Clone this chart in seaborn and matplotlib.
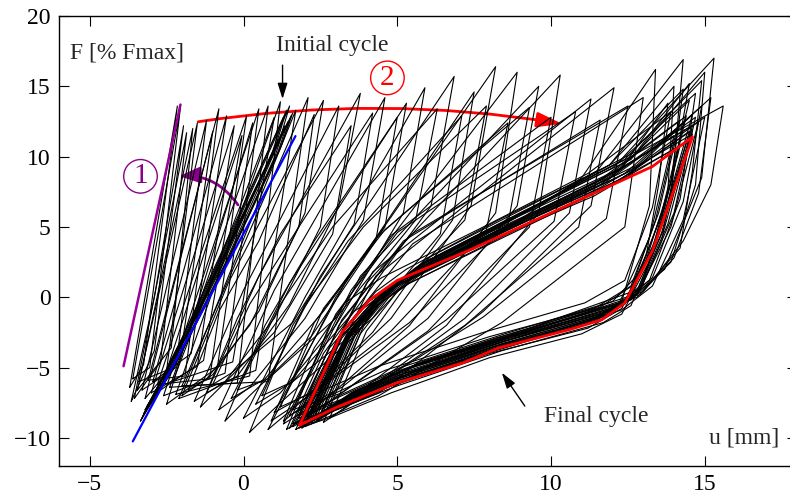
import numpy as np
import pandas as pd
import matplotlib
matplotlib.use("Agg")
import matplotlib.pyplot as plt
from matplotlib.patches import FancyArrowPatch
import seaborn as sns

# --- data: hysteresis cycles, u [mm] vs F [% Fmax] ---
# initial cycles, stacked narrow loops along the blue stiffness line
initial_cycles = [
    [(-3.30, -8.6), (-1.90, -2.5), (-0.30, 5.0), (1.40, 13.3), (1.05, 10.8), (-0.70, 2.2), (-2.50, -5.6), (-3.30, -8.6)],
    [(-3.25, -8.3), (-1.80, -2.2), (-0.20, 5.3), (1.50, 13.6), (1.15, 11.0), (-0.60, 2.4), (-2.40, -5.4), (-3.25, -8.3)],
    [(-3.35, -8.8), (-2.00, -2.9), (-0.40, 4.7), (1.30, 12.8), (0.95, 10.4), (-0.80, 1.9), (-2.60, -5.9), (-3.35, -8.8)],
    [(-3.20, -8.0), (-1.70, -2.0), (-0.10, 5.4), (1.55, 12.9), (1.20, 10.6), (-0.50, 2.6), (-2.30, -5.2), (-3.20, -8.0)],
    [(-3.28, -8.5), (-1.85, -2.6), (-0.25, 4.9), (1.45, 12.5), (1.10, 10.2), (-0.65, 2.0), (-2.45, -5.7), (-3.28, -8.5)],
    [(-3.15, -7.8), (-1.75, -2.3), (-0.15, 5.1), (1.60, 13.1), (1.25, 10.9), (-0.55, 2.5), (-2.35, -5.3), (-3.15, -7.8)],
    [(-3.22, -8.2), (-1.80, -2.4), (-0.20, 5.0), (1.35, 12.2), (1.02, 10.0), (-0.62, 2.1), (-2.42, -5.5), (-3.22, -8.2)],
]

# early cycles fanning out to the left (stiffness change, arrow 1)
fan_cycles = [
    [(-3.70, -6.4), (-2.15, 13.6), (-3.25, -4.8), (-3.70, -6.4)],
    [(-3.60, -5.8), (-2.05, 13.5), (-3.05, -5.0), (-3.60, -5.8)],
    [(-3.55, -7.2), (-1.85, 11.7), (-2.70, -4.6), (-3.55, -7.2)],
    [(-3.40, -6.0), (-1.50, 12.4), (-2.50, -5.2), (-3.40, -6.0)],
    [(-3.30, -6.6), (-1.20, 12.6), (-2.20, -5.0), (-3.30, -6.6)],
    [(-3.10, -5.9), (-0.80, 13.4), (-1.90, -5.6), (-3.10, -5.9)],
    [(-3.00, -6.8), (-0.30, 12.2), (-1.50, -4.9), (-3.00, -6.8)],
    [(-2.80, -6.2), (0.10, 12.9), (-1.10, -5.8), (-2.80, -6.2)],
    [(-2.60, -7.0), (0.50, 13.4), (-0.60, -5.4), (-2.60, -7.0)],
    [(-2.40, -6.4), (0.80, 13.6), (-0.20, -6.1), (-2.40, -6.4)],
    [(-2.20, -6.9), (1.20, 13.9), (0.20, -5.6), (-2.20, -6.9)],
    [(-2.00, -6.3), (2.10, 14.2), (0.80, -6.0), (-2.00, -6.3)],
    [(-3.65, -7.4), (-2.90, 0.0), (-1.95, 12.2), (-2.90, -3.8), (-3.65, -7.4)],
    [(-3.45, -6.6), (-1.65, 12.0), (-2.35, -3.6), (-3.45, -6.6)],
    [(-3.20, -7.2), (-1.00, 11.8), (-2.05, -4.2), (-3.20, -7.2)],
    [(-2.95, -6.0), (-0.55, 12.9), (-1.70, -4.0), (-2.95, -6.0)],
    [(-2.70, -6.6), (-0.05, 11.5), (-1.30, -4.5), (-2.70, -6.6)],
    [(-2.50, -7.6), (0.30, 12.4), (-0.85, -5.0), (-2.50, -7.6)],
    [(-2.30, -6.0), (1.00, 12.8), (-0.35, -4.6), (-2.30, -6.0)],
    [(-2.10, -7.2), (1.70, 13.3), (0.40, -5.2), (-2.10, -7.2)],
]

# transition cycles, peak moving to the right (arrow 2)
mid_cycles = [
    [(-2.0, -7.0), (-0.5, 1.0), (2.60, 14.0), (2.0, 6.0), (0.5, -1.0), (-1.0, -5.5), (-2.0, -7.0)],
    [(-1.6, -7.4), (0.0, 0.5), (3.10, 13.6), (2.5, 5.0), (1.0, -1.5), (-0.6, -6.0), (-1.6, -7.4)],
    [(-1.2, -6.8), (0.5, 1.5), (3.80, 14.5), (3.1, 6.5), (1.5, -0.5), (-0.2, -5.6), (-1.2, -6.8)],
    [(-0.8, -8.0), (1.0, 0.5), (4.60, 14.2), (3.9, 5.5), (2.0, -1.5), (0.2, -6.4), (-0.8, -8.0)],
    [(-0.4, -7.2), (1.5, 1.0), (5.30, 13.8), (4.6, 5.0), (2.6, -1.0), (0.7, -5.8), (-0.4, -7.2)],
    [(0.0, -8.6), (2.0, 0.0), (5.90, 14.9), (5.2, 6.0), (3.0, -2.0), (1.2, -6.8), (0.0, -8.6)],
    [(0.4, -7.6), (2.5, 1.5), (6.85, 15.7), (6.1, 6.5), (3.6, -1.0), (1.6, -6.0), (0.4, -7.6)],
    [(0.8, -9.4), (3.0, 0.0), (7.50, 14.6), (6.8, 5.5), (4.2, -2.5), (2.0, -7.2), (0.8, -9.4)],
    [(1.0, -8.2), (3.3, 1.0), (8.20, 16.4), (7.4, 6.5), (4.8, -1.5), (2.4, -6.5), (1.0, -8.2)],
    [(1.3, -9.0), (3.5, 0.5), (8.90, 16.0), (8.2, 6.0), (5.4, -2.0), (2.8, -7.0), (1.3, -9.0)],
    [(1.5, -8.4), (3.8, 1.5), (9.60, 15.0), (8.9, 6.5), (6.0, -1.5), (3.2, -6.4), (1.5, -8.4)],
    [(1.6, -9.2), (4.0, 1.0), (10.3, 15.8), (9.6, 6.0), (6.6, -2.0), (3.6, -7.0), (1.6, -9.2)],
    [(1.8, -8.6), (4.2, 1.8), (11.3, 14.1), (10.6, 6.0), (7.2, -1.5), (4.0, -6.6), (1.8, -8.6)],
    [(1.9, -9.0), (4.3, 1.5), (12.05, 14.9), (11.3, 6.5), (7.8, -1.0), (4.4, -6.8), (1.9, -9.0)],
    [(-1.8, -6.6), (-0.8, -1.0), (0.5, 4.0), (2.3, 13.0), (1.8, 5.0), (0.2, -2.0), (-1.2, -5.8), (-1.8, -6.6)],
    [(-1.4, -7.8), (-0.2, -1.5), (1.2, 4.5), (3.5, 12.2), (2.9, 4.5), (1.0, -2.5), (-0.8, -6.5), (-1.4, -7.8)],
    [(-1.0, -6.2), (0.2, -0.5), (1.8, 5.0), (4.2, 13.1), (3.6, 5.2), (1.6, -1.8), (-0.4, -5.4), (-1.0, -6.2)],
    [(-0.6, -8.8), (0.7, -2.0), (2.3, 4.0), (5.0, 12.8), (4.3, 4.0), (2.2, -2.8), (0.2, -7.0), (-0.6, -8.8)],
    [(-0.2, -6.6), (1.2, -0.5), (2.9, 5.0), (6.3, 13.4), (5.6, 5.5), (3.0, -1.5), (0.8, -5.8), (-0.2, -6.6)],
    [(0.2, -9.6), (1.6, -2.0), (3.4, 4.0), (7.1, 12.9), (6.4, 4.5), (3.6, -2.8), (1.2, -7.5), (0.2, -9.6)],
    [(0.6, -7.0), (2.0, -0.5), (3.9, 5.0), (7.9, 13.6), (7.2, 5.5), (4.2, -1.5), (1.6, -6.0), (0.6, -7.0)],
    [(0.9, -8.8), (2.3, -1.8), (4.3, 4.2), (8.6, 12.4), (7.9, 4.8), (4.8, -2.4), (2.0, -7.2), (0.9, -8.8)],
    [(1.2, -7.8), (2.6, -0.8), (4.6, 4.8), (9.3, 13.5), (8.6, 5.2), (5.4, -1.8), (2.4, -6.6), (1.2, -7.8)],
    [(1.4, -9.4), (2.8, -2.0), (4.8, 4.4), (10.0, 12.8), (9.3, 5.0), (6.0, -2.4), (2.8, -7.4), (1.4, -9.4)],
    [(1.6, -8.0), (3.0, -1.2), (5.0, 4.6), (10.8, 13.2), (10.1, 5.4), (6.6, -1.6), (3.2, -6.8), (1.6, -8.0)],
    [(1.7, -9.0), (3.1, -2.0), (5.2, 4.0), (11.6, 12.6), (10.9, 5.0), (7.2, -2.0), (3.6, -7.2), (1.7, -9.0)],
    [(1.8, -8.4), (3.2, -1.6), (5.4, 4.4), (12.5, 13.6), (11.8, 5.6), (7.8, -1.4), (4.0, -6.6), (1.8, -8.4)],
    [(2.0, -9.2), (3.3, -2.2), (5.5, 3.8), (13.0, 14.2), (12.4, 5.0), (8.4, -1.8), (4.4, -7.0), (2.0, -9.2)],
]

# late cycles, close to the final one
late_cycles = [
    [(2.0, -9.0), (3.4, -2.8), (4.4, -0.2), (5.3, 1.4), (8.3, 4.6), (11.8, 8.2), (14.5, 14.0), (13.6, 6.0), (12.6, 0.0), (11.6, -1.3), (8.3, -3.4), (4.9, -5.8), (3.0, -7.6), (2.0, -9.0)],
    [(2.2, -8.7), (3.5, -2.3), (4.5, 0.2), (5.5, 1.8), (8.5, 5.2), (11.5, 9.0), (14.3, 16.9), (13.9, 7.0), (12.9, 0.6), (11.9, -0.9), (8.5, -3.0), (5.1, -5.4), (3.2, -7.3), (2.2, -8.7)],
    [(2.4, -8.4), (3.7, -2.0), (4.7, 0.5), (5.7, 2.2), (8.7, 5.6), (12.2, 9.6), (15.3, 17.0), (14.9, 8.5), (13.7, 2.0), (12.4, -0.4), (8.8, -2.7), (5.4, -5.0), (3.4, -7.0), (2.4, -8.4)],
    [(1.9, -9.3), (3.3, -3.0), (4.3, -0.4), (5.2, 1.1), (8.1, 4.2), (11.0, 8.5), (13.4, 16.2), (13.2, 6.5), (12.3, -0.3), (11.3, -1.6), (8.1, -3.7), (4.8, -6.1), (2.9, -7.9), (1.9, -9.3)],
    [(2.6, -8.1), (3.9, -1.8), (4.9, 0.8), (5.9, 2.5), (9.0, 6.0), (12.6, 10.0), (15.6, 13.6), (15.2, 8.0), (14.3, 4.0), (13.0, 0.4), (9.1, -2.4), (5.7, -4.7), (3.6, -6.7), (2.6, -8.1)],
    [(2.1, -8.8), (3.5, -2.6), (4.5, 0.0), (5.4, 1.6), (8.4, 4.9), (12.0, 8.8), (14.8, 12.5), (13.9, 5.0), (12.8, 0.2), (11.8, -1.1), (8.4, -3.2), (5.0, -5.6), (3.1, -7.5), (2.1, -8.8)],
    [(2.3, -8.6), (3.6, -2.2), (4.6, 0.4), (5.6, 2.0), (8.6, 5.4), (11.9, 9.4), (14.0, 15.0), (13.8, 7.5), (13.0, 1.0), (12.1, -0.7), (8.6, -2.9), (5.2, -5.2), (3.3, -7.2), (2.3, -8.6)],
    [(1.95, -9.1), (3.35, -2.7), (4.3, -0.1), (5.2, 1.3), (8.2, 4.5), (12.5, 8.6), (14.6, 13.0), (13.5, 4.5), (12.5, -0.2), (11.7, -1.4), (8.3, -3.5), (4.9, -5.9), (3.0, -7.7), (1.95, -9.1)],
    [(2.5, -8.3), (3.8, -1.9), (4.8, 0.6), (5.8, 2.4), (8.9, 5.8), (12.4, 9.8), (14.9, 15.4), (14.6, 9.0), (14.2, 3.5), (12.8, 0.0), (9.0, -2.5), (5.6, -4.8), (3.5, -6.8), (2.5, -8.3)],
    [(2.05, -8.9), (3.45, -2.5), (4.45, 0.1), (5.35, 1.5), (8.4, 4.8), (11.6, 8.0), (14.1, 12.0), (13.4, 5.5), (12.5, -0.1), (11.5, -1.5), (8.2, -3.5), (4.9, -5.9), (3.05, -7.6), (2.05, -8.9)],
    [(1.7, -9.4), (3.0, -3.2), (4.1, -0.6), (5.0, 0.9), (8.0, 4.0), (11.4, 7.4), (14.4, 11.0), (13.4, 3.8), (12.3, -0.8), (11.2, -2.2), (8.0, -4.0), (4.7, -6.4), (2.8, -8.2), (1.7, -9.4)],
    [(2.1, -8.9), (3.5, -2.4), (4.5, 0.2), (5.5, 1.8), (8.6, 5.4), (12.0, 9.2), (14.7, 14.5), (14.2, 7.0), (13.2, 1.2), (12.0, -0.9), (8.5, -3.1), (5.1, -5.5), (3.2, -7.4), (2.1, -8.9)],
    [(2.3, -8.5), (3.6, -2.0), (4.7, 0.6), (5.8, 2.4), (9.0, 6.0), (12.6, 9.8), (15.0, 16.0), (14.7, 8.0), (13.9, 2.5), (12.6, -0.2), (8.9, -2.6), (5.5, -4.9), (3.5, -6.9), (2.3, -8.5)],
    [(2.7, -8.0), (4.0, -1.6), (5.0, 1.0), (6.0, 2.8), (9.2, 6.4), (12.8, 10.4), (14.5, 15.2), (14.0, 9.0), (13.6, 4.0), (12.9, 0.6), (9.3, -2.2), (5.9, -4.5), (3.8, -6.5), (2.7, -8.0)],
    [(2.0, -9.1), (3.4, -2.6), (4.4, -0.1), (5.3, 1.4), (8.3, 4.8), (11.8, 8.6), (14.6, 12.2), (13.7, 5.0), (12.7, 0.0), (11.8, -1.2), (8.4, -3.3), (5.0, -5.7), (3.1, -7.5), (2.0, -9.1)],
    [(2.5, -8.4), (3.7, -2.2), (4.6, 0.3), (5.6, 2.1), (8.8, 5.6), (12.3, 9.2), (13.8, 13.8), (13.5, 8.0), (13.1, 3.0), (12.4, -0.3), (9.0, -2.6), (5.6, -4.9), (3.6, -6.7), (2.5, -8.4)],
    [(1.85, -9.2), (3.2, -2.9), (4.2, -0.3), (5.1, 1.1), (8.1, 4.3), (11.6, 7.8), (14.6, 11.6), (13.3, 3.6), (12.4, -0.5), (11.5, -1.6), (8.2, -3.7), (4.9, -6.0), (2.9, -7.8), (1.85, -9.2)],
    [(2.2, -8.7), (3.5, -2.3), (4.5, 0.2), (5.4, 1.7), (8.5, 5.0), (12.1, 8.7), (14.7, 12.8), (14.0, 6.0), (12.9, 0.5), (11.9, -1.0), (8.5, -3.1), (5.1, -5.5), (3.2, -7.3), (2.2, -8.7)],
    [(1.5, -9.3), (2.6, -4.0), (3.6, -1.0), (4.8, 0.8), (8.0, 4.4), (11.5, 8.2), (14.2, 12.6), (13.5, 6.0), (12.6, 0.8), (11.4, -0.8), (8.0, -2.8), (4.6, -5.2), (2.8, -7.0), (1.5, -9.3)],
    [(1.3, -8.8), (2.3, -3.6), (3.3, -0.4), (4.5, 1.4), (7.8, 5.0), (11.2, 8.8), (13.9, 13.2), (13.3, 6.4), (12.4, 1.2), (11.1, -0.4), (7.8, -2.5), (4.4, -4.9), (2.6, -6.6), (1.3, -8.8)],
    [(2.0, -9.0), (3.2, -3.4), (4.2, -0.8), (5.2, 0.8), (8.4, 4.2), (12.0, 8.0), (14.5, 11.8), (13.6, 4.6), (12.6, -0.6), (11.7, -1.8), (8.4, -3.8), (5.0, -6.3), (3.0, -8.0), (2.0, -9.0)],
    [(2.4, -8.8), (3.6, -2.8), (4.6, 0.0), (5.6, 1.6), (8.8, 5.0), (12.4, 8.8), (14.9, 13.6), (14.3, 6.8), (13.3, 1.4), (12.2, -0.6), (8.8, -2.9), (5.4, -5.4), (3.4, -7.4), (2.4, -8.8)],
    [(2.8, -8.6), (4.0, -2.4), (5.0, 0.4), (6.0, 2.0), (9.2, 5.6), (12.8, 9.4), (15.2, 14.2), (14.8, 7.4), (14.0, 2.8), (12.9, 0.2), (9.3, -2.4), (5.8, -5.0), (3.8, -7.1), (2.8, -8.6)],
    [(1.9, -8.6), (3.1, -2.8), (4.0, -0.4), (5.0, 1.0), (8.0, 4.6), (11.7, 8.4), (14.4, 12.9), (13.7, 6.4), (12.7, 0.9), (11.6, -0.7), (8.2, -2.9), (4.8, -5.4), (3.0, -7.2), (1.9, -8.6)],
    [(2.2, -9.0), (3.4, -3.0), (4.4, -0.5), (5.4, 1.0), (8.5, 4.4), (12.2, 8.3), (14.6, 11.9), (13.8, 5.2), (12.8, 0.3), (11.8, -1.3), (8.5, -3.5), (5.2, -5.9), (3.2, -7.7), (2.2, -9.0)],
    [(1.6, -9.0), (2.8, -3.6), (3.9, -0.8), (4.9, 0.9), (8.0, 4.4), (11.4, 7.9), (14.0, 11.5), (13.2, 4.2), (12.2, -0.5), (11.1, -1.9), (7.9, -4.0), (4.6, -6.4), (2.7, -8.1), (1.6, -9.0)],
    [(2.6, -8.9), (3.8, -2.6), (4.8, 0.2), (5.8, 1.8), (9.0, 5.2), (12.6, 9.0), (15.0, 12.8), (14.3, 5.5), (13.3, 0.8), (12.3, -0.9), (8.9, -3.2), (5.5, -5.6), (3.5, -7.6), (2.6, -8.9)],
    [(2.0, -8.4), (3.3, -2.2), (4.3, 0.4), (5.3, 2.0), (8.3, 5.5), (11.9, 9.4), (14.3, 14.8), (13.9, 8.2), (13.0, 2.0), (12.0, -0.3), (8.5, -2.6), (5.1, -5.0), (3.2, -6.9), (2.0, -8.4)],
    [(1.8, -9.3), (3.1, -3.0), (4.1, -0.6), (5.0, 0.8), (8.0, 4.0), (11.4, 7.2), (14.2, 10.8), (13.3, 3.0), (12.3, -1.2), (11.0, -2.6), (8.0, -4.3), (4.8, -6.8), (2.9, -8.5), (1.8, -9.3)],
]

# final cycle (red) and reference lines
final_u = [1.82, 3.2, 4.1, 5.0, 7.3, 8.3, 13.3, 14.6, 13.3, 12.4, 11.65, 10.6, 8.3, 7.1, 4.97, 3.05, 1.82]
final_F = [-9.1, -2.5, -0.2, 1.2, 3.3, 4.3, 9.3, 11.4, 3.3, -0.4, -1.6, -2.3, -3.6, -4.7, -6.1, -7.8, -9.1]
initial_line_u = [-3.6, 1.69]
initial_line_F = [-10.25, 11.46]
stiff_line_u = [-3.9, -2.05]
stiff_line_F = [-4.9, 13.7]

rows = []
for name, group in [("i", initial_cycles), ("f", fan_cycles), ("m", mid_cycles), ("l", late_cycles)]:
    for k, loop in enumerate(group):
        for j, (u, F) in enumerate(loop):
            rows.append({"cycle": f"{name}{k}", "step": j, "u": u, "F": F})
df = pd.DataFrame(rows)

# --- plot ---
sns.set_theme(style="ticks")
plt.rcParams["font.family"] = ["Liberation Serif", "DejaVu Serif"]

fig = plt.figure(figsize=(7.9, 4.98), dpi=100)
ax = fig.add_axes([59 / 790, 32 / 498, 738 / 790, 450 / 498])

sns.lineplot(data=df, x="u", y="F", units="cycle", estimator=None, sort=False,
             color="black", linewidth=0.8, ax=ax, legend=False)
ax.plot(final_u, final_F, color="red", linewidth=2.0)
ax.plot(initial_line_u, initial_line_F, color="blue", linewidth=1.6)
ax.plot(stiff_line_u, stiff_line_F, color="#990099", linewidth=1.8)

ax.set_xlim(-6, 18)
ax.set_ylim(-12, 20)
ax.set_xticks([-5, 0, 5, 10, 15])
ax.set_yticks([-10, -5, 0, 5, 10, 15, 20])
ax.tick_params(direction="in", length=7, width=0.8, top=True, right=True,
               labelsize=17, colors="black", pad=6)
for s in ax.spines.values():
    s.set_linewidth(1.0)
    s.set_color("black")
ax.set_xlabel("")
ax.set_ylabel("")

ax.text(-5.65, 17.4, "F [% Fmax]", fontsize=17, va="center", ha="left")
ax.text(16.27, -10.0, "u [mm]", fontsize=17, va="center", ha="center")
ax.text(2.9, 17.9, "Initial cycle", fontsize=17, va="center", ha="center")
ax.text(11.46, -8.5, "Final cycle", fontsize=17, va="center", ha="center")

ax.annotate("", xy=(1.27, 13.9), xytext=(1.27, 16.7),
            arrowprops=dict(arrowstyle="-|>,head_length=0.8,head_width=0.25",
                            color="black", lw=1.0, mutation_scale=12))
ax.annotate("", xy=(8.35, -5.2), xytext=(9.2, -7.9),
            arrowprops=dict(arrowstyle="-|>,head_length=0.8,head_width=0.25",
                            color="black", lw=1.0, mutation_scale=12))

ax.add_patch(FancyArrowPatch((-1.56, 12.45), (10.45, 12.3), connectionstyle="arc3,rad=-0.08",
                             arrowstyle="-|>,head_length=1.0,head_width=0.3", mutation_scale=15,
                             color="red", lw=2.0))
ax.add_patch(FancyArrowPatch((-0.13, 6.4), (-2.18, 8.6), connectionstyle="arc3,rad=0.3",
                             arrowstyle="-|>,head_length=0.9,head_width=0.35", mutation_scale=14,
                             color="#8b008b", lw=2.0))

ax.text(4.68, 15.6, "2", fontsize=21, color="red", ha="center", va="center",
        bbox=dict(boxstyle="circle,pad=0.13", fc="none", ec="red", lw=1.0))
ax.text(-3.35, 8.6, "1", fontsize=21, color="#8b008b", ha="center", va="center",
        bbox=dict(boxstyle="circle,pad=0.13", fc="none", ec="#8b008b", lw=1.0))

fig.savefig("out.png", dpi=100)
